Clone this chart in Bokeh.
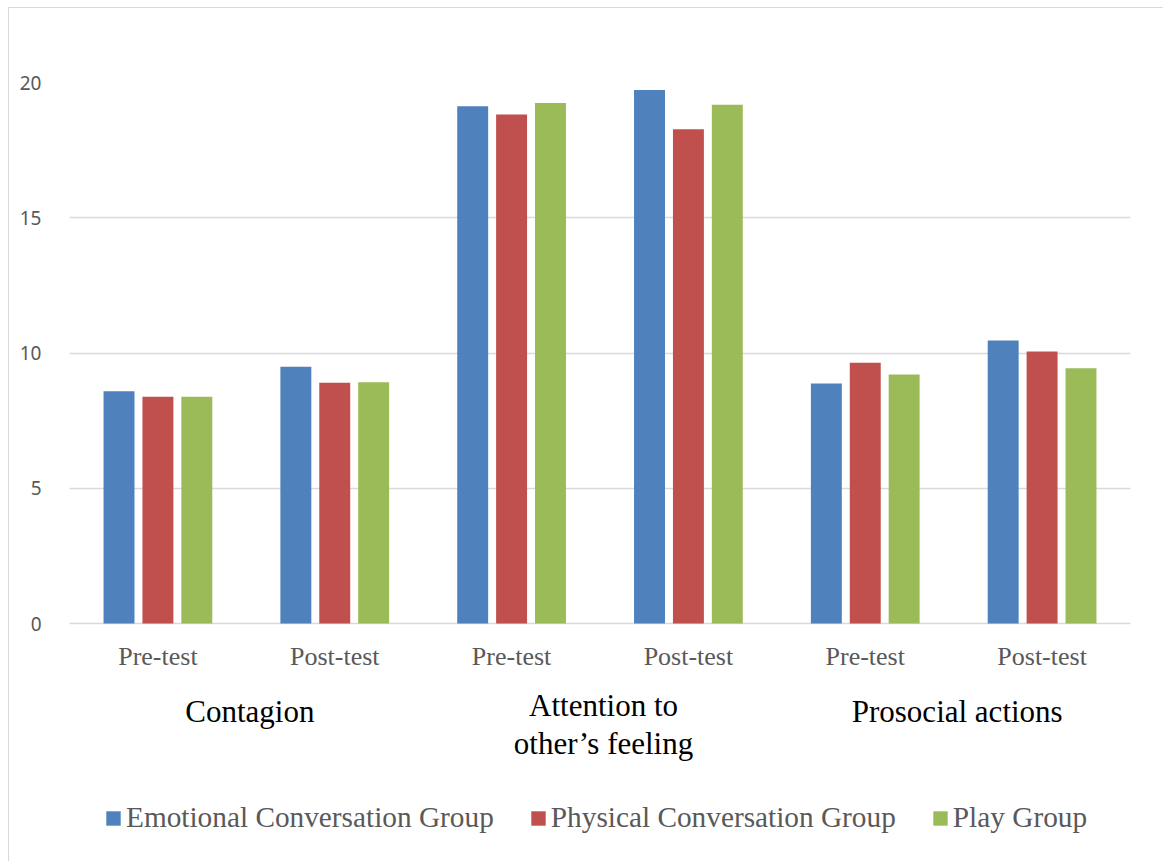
from bokeh.plotting import figure
from bokeh.models import (ColumnDataSource, FactorRange, Range1d, Legend, LegendItem,
                          FixedTicker)
from bokeh.core.properties import value
from bokeh.transform import dodge
from bokeh.embed import file_html
from bokeh.resources import INLINE

# Empathy sub-scales, each measured before and after the intervention
scales = ["Contagion", "Attention to\nother\u2019s feeling", "Prosocial actions"]
phases = ["Pre-test", "Post-test"]

# Mean scores per group, in the order (scale, phase)
emotional = [8.59, 9.49, 19.12, 19.72, 8.87, 10.46]
physical = [8.38, 8.90, 18.82, 18.27, 9.64, 10.06]
play = [8.38, 8.92, 19.24, 19.18, 9.21, 9.44]

series_names = ["Emotional Conversation Group", "Physical Conversation Group", "Play Group"]
series_keys = ["emotional", "physical", "play"]
colors = ["#4F81BD", "#C0504D", "#9BBB59"]

y_ticks = [0, 5, 10, 15, 20]
y_max = 20
# room below zero for the category labels and the legend
y_floor = -8.5

factors = [(s, ph) for s in scales for ph in phases]
source = ColumnDataSource(data=dict(cat=factors, phase=[ph for _, ph in factors],
                                    emotional=emotional, physical=physical, play=play))

p = figure(width=1154, height=853,
           x_range=FactorRange(*factors, group_padding=0, range_padding=0),
           y_range=Range1d(y_floor, y_max),
           output_backend="svg", toolbar_location=None, title=None,
           x_axis_location=None,
           min_border_left=60, min_border_right=33,
           min_border_top=74, min_border_bottom=8)
p.margin = (8, 0, 0, 9)
p.styles = {"outline": "1px solid #d9d9d9"}
p.outline_line_color = None
p.background_fill_color = "white"
p.border_fill_color = "white"

bar_w = 0.175
step = 0.22
renderers = []
for i, (key, col) in enumerate(zip(series_keys, colors)):
    r = p.vbar(x=dodge("cat", (i - 1) * step, range=p.x_range), top=key,
               width=bar_w, source=source, fill_color=col, line_color=None)
    renderers.append(r)

# grid
p.xgrid.grid_line_color = None
p.ygrid.grid_line_color = "#d9d9d9"
p.ygrid.grid_line_width = 1.5

# y axis
ya = p.yaxis[0]
ya.ticker = FixedTicker(ticks=y_ticks)
p.ygrid.ticker = FixedTicker(ticks=y_ticks)
ya.axis_line_color = None
ya.major_tick_line_color = None
ya.minor_tick_line_color = None
ya.major_label_standoff = 22
ya.major_label_text_font = "Noto Sans"
ya.major_label_text_font_size = "19px"
ya.major_label_text_color = "#595959"

# phase labels under each cluster
p.text(x="cat", y=-1.2, text="phase", source=source,
       text_align="center", text_baseline="middle",
       text_font=value("Liberation Serif"), text_font_size="26px",
       text_color="#595959")

# scale names centred under their two phases (synthetic factor coordinates)
n_ph = len(phases)
scale_src = ColumnDataSource(data=dict(
    x=[n_ph * (i + 0.5) + 0.02 for i in range(len(scales))],
    y=[-3.73 if "\n" in s else -3.25 for s in scales],
    text=scales))
p.text(x="x", y="y", text="text", source=scale_src,
       text_align="center", text_baseline="middle",
       text_font=value("Liberation Serif"), text_font_size="31px",
       text_color="black", text_line_height=1.08)

legend = Legend(items=[LegendItem(label=n, renderers=[r])
                       for n, r in zip(series_names, renderers)],
                orientation="horizontal", location=(35, 19),
                glyph_width=18, glyph_height=18, label_standoff=4, spacing=35,
                padding=0, margin=0, border_line_color=None,
                background_fill_alpha=0,
                label_text_font="Liberation Serif", label_text_font_size="29.3px",
                label_text_color="#595959")
p.add_layout(legend)

open("out.html", "w").write(file_html(p, INLINE))
